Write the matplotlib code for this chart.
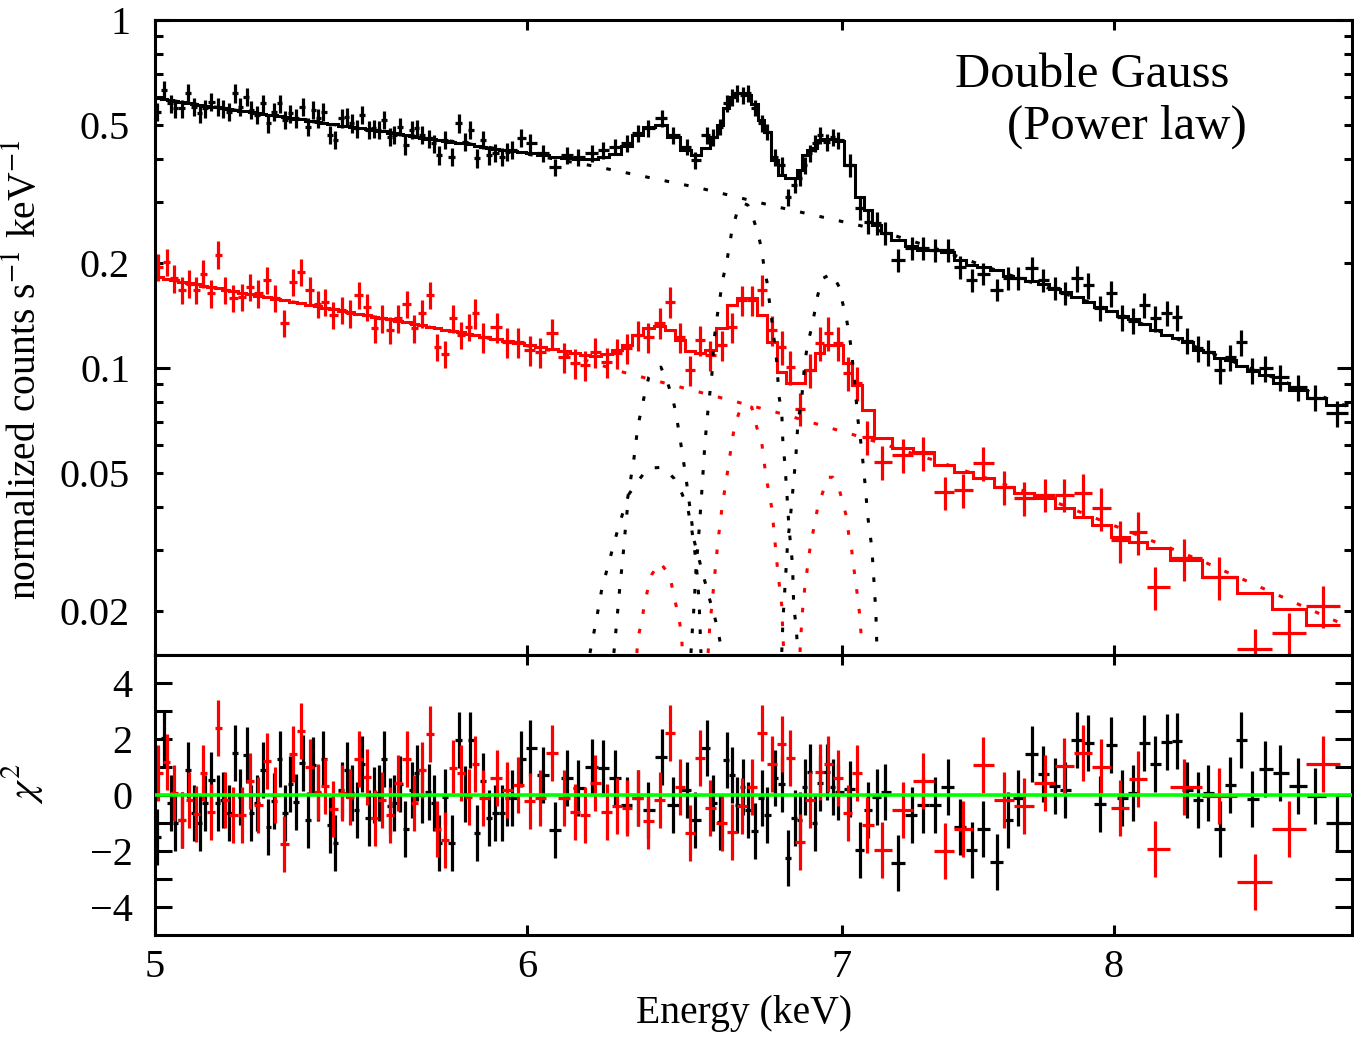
import numpy as np
import matplotlib
matplotlib.use("Agg")
import matplotlib.pyplot as plt
from matplotlib.ticker import FixedLocator, FuncFormatter, NullFormatter

# ---- data (keV, normalized counts s^-1 keV^-1) ----
black_E = [5.006, 5.022, 5.039, 5.049, 5.066, 5.082, 5.097, 5.111, 5.124, 5.140,
           5.157, 5.169, 5.184, 5.200, 5.213, 5.230, 5.242, 5.256, 5.272, 5.285,
           5.299, 5.315, 5.329, 5.342, 5.358, 5.375, 5.390, 5.403, 5.416, 5.430,
           5.448, 5.461, 5.479, 5.493, 5.506, 5.520, 5.534, 5.552, 5.566, 5.579,
           5.593, 5.610, 5.621, 5.638, 5.652, 5.671, 5.685, 5.699, 5.718, 5.732,
           5.746, 5.764, 5.783, 5.802, 5.821, 5.835, 5.855, 5.872, 5.890, 5.907,
           5.927, 5.942, 5.956, 5.983, 6.009, 6.047, 6.083, 6.119, 6.152, 6.194,
           6.228, 6.264, 6.301, 6.335, 6.366, 6.410, 6.445, 6.489, 6.515, 6.554,
           6.573, 6.595, 6.618, 6.634, 6.651, 6.670, 6.686, 6.709, 6.732, 6.749,
           6.775, 6.798, 6.818, 6.842, 6.859, 6.875, 6.892, 6.909, 6.926, 6.950,
           6.970, 6.987, 7.028, 7.063, 7.091, 7.122, 7.150, 7.196, 7.246, 7.285,
           7.328, 7.375, 7.418, 7.462, 7.503, 7.555, 7.596, 7.633, 7.685, 7.727,
           7.772, 7.811, 7.857, 7.900, 7.946, 7.989, 8.032, 8.076, 8.119, 8.163,
           8.211, 8.252, 8.292, 8.337, 8.378, 8.428, 8.469, 8.515, 8.561, 8.615,
           8.680, 8.757, 8.829, 8.925]
black_data = [0.545, 0.629, 0.576, 0.557, 0.557, 0.616, 0.563, 0.539, 0.557, 0.582,
              0.563, 0.557, 0.545, 0.616, 0.563, 0.602, 0.551, 0.533, 0.576, 0.505,
              0.545, 0.576, 0.516, 0.539, 0.522, 0.563, 0.494, 0.551, 0.522, 0.545,
              0.467, 0.452, 0.522, 0.528, 0.505, 0.488, 0.533, 0.483, 0.488, 0.483,
              0.516, 0.462, 0.467, 0.494, 0.437, 0.483, 0.488, 0.467, 0.457, 0.442,
              0.409, 0.452, 0.405, 0.505, 0.447, 0.483, 0.401, 0.452, 0.409, 0.415,
              0.404, 0.418, 0.423, 0.458, 0.443, 0.415, 0.378, 0.409, 0.404, 0.415,
              0.423, 0.432, 0.443, 0.473, 0.489, 0.523, 0.467, 0.432, 0.396, 0.467,
              0.461, 0.493, 0.577, 0.601, 0.617, 0.609, 0.617, 0.559, 0.506, 0.477,
              0.404, 0.383, 0.310, 0.336, 0.352, 0.383, 0.415, 0.443, 0.467, 0.446,
              0.461, 0.452, 0.383, 0.288, 0.263, 0.261, 0.244, 0.204, 0.221, 0.221,
              0.218, 0.218, 0.195, 0.179, 0.187, 0.168, 0.181, 0.181, 0.194, 0.179,
              0.170, 0.164, 0.181, 0.173, 0.149, 0.164, 0.140, 0.137, 0.152, 0.139,
              0.144, 0.140, 0.120, 0.114, 0.111, 0.0987, 0.1075, 0.1187, 0.0987, 0.100,
              0.0942, 0.0880, 0.0823, 0.0742]
black_relerr = [0.06] * 65 + [0.055] * 37 + [0.075] * 20 + [0.085] * 22
black_model = [0.597, 0.593, 0.589, 0.585, 0.581, 0.577, 0.574, 0.570, 0.568, 0.564,
               0.561, 0.559, 0.555, 0.551, 0.549, 0.546, 0.544, 0.540, 0.537, 0.535,
               0.532, 0.530, 0.526, 0.523, 0.521, 0.518, 0.514, 0.513, 0.509, 0.507,
               0.504, 0.501, 0.497, 0.496, 0.492, 0.491, 0.488, 0.485, 0.483, 0.480,
               0.479, 0.475, 0.474, 0.470, 0.467, 0.464, 0.462, 0.459, 0.456, 0.455,
               0.452, 0.449, 0.446, 0.443, 0.442, 0.439, 0.436, 0.433, 0.430, 0.427,
               0.424, 0.423, 0.420, 0.418, 0.414, 0.409, 0.404, 0.401, 0.399, 0.399,
               0.404, 0.412, 0.434, 0.467, 0.492, 0.499, 0.461, 0.423, 0.409, 0.429,
               0.461, 0.499, 0.559, 0.601, 0.617, 0.617, 0.609, 0.574, 0.516, 0.477,
               0.396, 0.359, 0.352, 0.352, 0.371, 0.409, 0.423, 0.429, 0.452, 0.455,
               0.455, 0.449, 0.383, 0.310, 0.284, 0.258, 0.244, 0.233, 0.224, 0.218,
               0.218, 0.215, 0.204, 0.198, 0.195, 0.191, 0.184, 0.181, 0.178, 0.174,
               0.169, 0.165, 0.160, 0.155, 0.150, 0.146, 0.141, 0.138, 0.134, 0.1286,
               0.1244, 0.122, 0.1187, 0.1126, 0.1111, 0.1068, 0.1054, 0.1013, 0.0980, 0.0955,
               0.0906, 0.0865, 0.0820, 0.0783]
black_chi = [-1.49, 2.02, -0.30, -1.01, -0.90, 0.89, -0.65, -1.00, -0.30, 0.54,
             -0.30, -0.18, -0.65, 1.49, -0.06, 1.43, -0.65, -0.30, 0.90, -1.13,
             -0.20, 1.30, -0.65, 0.40, -0.24, 1.13, -0.90, 1.07, 0.06, 1.30,
             -1.07, -1.73, 0.18, 0.90, 0.06, -0.54, 1.10, -0.83, 0.00, 0.06,
             1.30, -0.40, -0.30, 0.40, -1.20, 0.18, 0.77, 0.00, 0.10, -0.30,
             -1.73, -0.06, -1.73, 1.96, 0.05, 1.96, -1.37, 0.50, -0.83, -0.65,
             -0.65, -0.10, -0.12, 1.30, 1.67, 0.71, -1.25, 0.62, 0.24, 1.00,
             0.95, 0.60, -0.36, -0.12, -0.54, 1.37, -0.36, 0.18, -0.90, 1.67,
             -0.30, -0.95, 1.25, 0.71, -0.36, 0.30, -0.54, -1.30, -0.12, -0.71,
             0.60, 0.40, -2.26, -0.83, -0.90, 0.30, 0.83, -1.00, 0.42, 0.83,
             0.30, 0.10, 0.20, -1.96, -0.54, -0.06, 0.10, -2.44, -0.71, -0.36,
             -0.36, 0.30, -1.13, -1.96, -1.23, -2.40, -0.90, -0.12, 1.45, 0.75,
             0.32, 0.18, 1.96, 1.87, -0.32, 1.80, -0.12, 0.06, 1.87, 1.10,
             1.90, 1.94, 0.18, -0.18, 0.08, -1.23, 0.36, 1.96, -0.15, 0.92,
             0.77, 0.32, -0.04, -1.00]

red_E = [5.008, 5.029, 5.047, 5.066, 5.085, 5.102, 5.120, 5.139, 5.157, 5.175,
         5.196, 5.218, 5.239, 5.260, 5.282, 5.303, 5.327, 5.350, 5.371, 5.394,
         5.415, 5.435, 5.457, 5.480, 5.502, 5.525, 5.547, 5.568, 5.589, 5.610,
         5.632, 5.656, 5.678, 5.700, 5.721, 5.742, 5.764, 5.787, 5.809, 5.832,
         5.849, 5.872, 5.912, 5.942, 5.974, 6.009, 6.039, 6.075, 6.110, 6.143,
         6.173, 6.203, 6.240, 6.270, 6.301, 6.335, 6.366, 6.404, 6.436, 6.467,
         6.499, 6.531, 6.563, 6.602, 6.634, 6.667, 6.699, 6.732, 6.765, 6.798,
         6.825, 6.859, 6.892, 6.926, 6.953, 6.987, 7.021, 7.053, 7.087, 7.140,
         7.214, 7.285, 7.364, 7.429, 7.503, 7.580, 7.655, 7.734, 7.807, 7.880,
         7.950, 8.025, 8.096, 8.163, 8.280, 8.423, 8.573, 8.717, 8.864]
red_data = [0.1955, 0.202, 0.181, 0.168, 0.175, 0.168, 0.187, 0.164, 0.212, 0.168,
            0.159, 0.160, 0.171, 0.164, 0.179, 0.159, 0.135, 0.177, 0.189, 0.168,
            0.153, 0.155, 0.142, 0.147, 0.1436, 0.162, 0.150, 0.130, 0.139, 0.1286,
            0.139, 0.153, 0.130, 0.1436, 0.162, 0.115, 0.110, 0.139, 0.1244, 0.1315,
            0.144, 0.1227, 0.131, 0.1187, 0.1187, 0.1126, 0.1111, 0.1261, 0.1075, 0.1033,
            0.1020, 0.1111, 0.1040, 0.1104, 0.1141, 0.1244, 0.1227, 0.135, 0.155, 0.1227,
            0.0987, 0.1203, 0.1090, 0.1164, 0.131, 0.157, 0.157, 0.168, 0.1286, 0.1148,
            0.1007, 0.0765, 0.0987, 0.1179, 0.1261, 0.1179, 0.0968, 0.0905, 0.0634, 0.0537,
            0.0563, 0.0570, 0.0440, 0.0446, 0.0534, 0.0455, 0.0424, 0.0433, 0.0433, 0.0437,
            0.0396, 0.0320, 0.0338, 0.0235, 0.0284, 0.0251, 0.0156, 0.0174, 0.0208]
red_relerr = [0.09] * 40 + [0.10] * 29 + [0.11] * 20 + [0.14] * 10
red_model = [0.1826, 0.1802, 0.1790, 0.1772, 0.1755, 0.1743, 0.1726, 0.1709, 0.1698, 0.1681,
             0.1665, 0.1648, 0.1632, 0.1616, 0.1600, 0.1584, 0.1568, 0.1548, 0.1538, 0.1517,
             0.1507, 0.1492, 0.1477, 0.1463, 0.1448, 0.1434, 0.1420, 0.1406, 0.1392, 0.1383,
             0.1369, 0.1356, 0.1342, 0.1329, 0.1316, 0.1302, 0.1290, 0.1277, 0.1268, 0.1256,
             0.1244, 0.1231, 0.1211, 0.1195, 0.1180, 0.1164, 0.1149, 0.1134, 0.1119, 0.1104,
             0.1090, 0.1083, 0.1097, 0.1126, 0.1164, 0.1244, 0.1302, 0.1320, 0.1286, 0.1203,
             0.1119, 0.1104, 0.1126, 0.1302, 0.1517, 0.1589, 0.1589, 0.1420, 0.1187, 0.0974,
             0.0906, 0.0906, 0.0987, 0.1104, 0.1164, 0.1164, 0.1033, 0.0894, 0.0757, 0.0630,
             0.0589, 0.0574, 0.0527, 0.0502, 0.0483, 0.0455, 0.0437, 0.0423, 0.0396, 0.0373,
             0.0354, 0.0327, 0.0316, 0.0304, 0.0281, 0.0251, 0.0226, 0.0204, 0.0183]
red_chi = [0.77, 1.19, 0.06, -0.90, -0.18, -0.68, 0.80, -0.60, 2.38, -0.18,
           -0.71, -0.71, 0.50, -0.36, 1.21, 0.00, -1.76, 1.46, 2.29, 1.00,
           0.12, 0.32, -0.51, 0.06, -0.06, 1.27, 0.65, -0.83, -0.18, -0.71,
           0.42, 1.27, -0.30, 0.90, 2.17, -1.23, -1.60, 0.95, 0.80, -0.06,
           1.10, -0.10, 0.60, 0.18, 0.36, -0.20, -0.12, 1.51, -0.12, -0.60,
           -0.71, 0.44, -0.60, -0.39, -0.48, -0.12, -0.93, -0.18, 2.23, 0.27,
           -1.35, 1.31, -0.48, -1.01, -1.31, -0.39, 0.30, 2.23, 1.10, 1.81,
           1.31, -1.69, -0.18, 0.83, 1.10, 0.60, -0.65, 0.77, -1.07, -1.96,
           -0.54, 0.50, -2.00, -1.21, 1.07, -0.18, -0.38, 0.42, 1.04, 1.51,
           1.01, -0.48, 0.56, -1.93, 0.27, -0.02, -3.12, -1.21, 1.10]

# model components (dotted)
black_cont_E = [5.0, 5.370, 5.821, 6.197, 6.531, 6.772, 7.098, 7.328, 7.568, 7.946, 8.345, 8.99]
black_cont = [0.597, 0.516, 0.443, 0.381, 0.329, 0.292, 0.253, 0.221, 0.189, 0.151, 0.1137, 0.0767]
red_cont_E = [5.0, 5.397, 5.821, 6.099, 6.289, 6.541, 6.802, 7.068, 7.346, 7.754, 8.345, 8.99]
red_cont = [0.1826, 0.1517, 0.1256, 0.111, 0.0974, 0.0848, 0.0738, 0.0634, 0.0537, 0.0418, 0.0281, 0.0179]

bk_fe64a_E = [6.188, 6.206, 6.224, 6.249, 6.276, 6.304, 6.323, 6.335, 6.357, 6.369, 6.388, 6.407,
              6.426, 6.442, 6.454, 6.470, 6.486, 6.499, 6.512, 6.537, 6.563, 6.585, 6.602]
bk_fe64a = [0.0152, 0.0186, 0.0232, 0.0284, 0.0352, 0.0426, 0.0551, 0.0681, 0.0848, 0.0942, 0.0994, 0.1007,
            0.0918, 0.0831, 0.0747, 0.0605, 0.0486, 0.0396, 0.0320, 0.0263, 0.0215, 0.0183, 0.0153]
bk_fe64b_E = [6.261, 6.270, 6.279, 6.289, 6.298, 6.307, 6.335, 6.366, 6.413, 6.448, 6.473, 6.492,
              6.505, 6.518, 6.528, 6.534]
bk_fe64b = [0.0152, 0.0188, 0.0233, 0.0288, 0.0359, 0.0434, 0.0473, 0.0516, 0.0519, 0.0483, 0.0437, 0.0396,
            0.0342, 0.0281, 0.0215, 0.0152]
bk_fe67_E = [6.502, 6.508, 6.512, 6.518, 6.528, 6.537, 6.547, 6.557, 6.569, 6.576, 6.589, 6.605,
             6.618, 6.634, 6.650, 6.670, 6.686, 6.702, 6.719, 6.732, 6.739, 6.749, 6.755, 6.762,
             6.782, 6.788, 6.798, 6.802, 6.808, 6.815, 6.822, 6.832, 6.835, 6.838, 6.845, 6.852]
bk_fe67 = [0.0152, 0.0186, 0.0208, 0.0263, 0.0342, 0.0446, 0.0613, 0.0765, 0.0955, 0.1203, 0.147, 0.181,
           0.204, 0.249, 0.279, 0.298, 0.294, 0.272, 0.244, 0.218, 0.195, 0.1766, 0.160, 0.144,
           0.1033, 0.0837, 0.0747, 0.0602, 0.0537, 0.0437, 0.0349, 0.0284, 0.0254, 0.0206, 0.0185, 0.0153]
bk_fe70_E = [6.798, 6.802, 6.808, 6.818, 6.825, 6.835, 6.845, 6.852, 6.865, 6.875, 6.885, 6.899,
             6.919, 6.936, 6.967, 6.994, 7.004, 7.018, 7.028, 7.035, 7.046, 7.056, 7.070, 7.081,
             7.091, 7.105, 7.112, 7.119, 7.122, 7.126]
bk_fe70 = [0.0153, 0.0189, 0.0230, 0.0320, 0.0359, 0.0446, 0.0555, 0.0695, 0.0823, 0.1033, 0.1179, 0.1312,
           0.162, 0.181, 0.187, 0.170, 0.1538, 0.137, 0.1227, 0.1104, 0.0894, 0.0718, 0.0581, 0.0467,
           0.0373, 0.0304, 0.0246, 0.0198, 0.0162, 0.0150]
rd_fe64_E = [6.332, 6.335, 6.348, 6.354, 6.366, 6.379, 6.404, 6.436, 6.445, 6.457, 6.467, 6.473, 6.475]
rd_fe64 = [0.0152, 0.0168, 0.0188, 0.0207, 0.0232, 0.0256, 0.0277, 0.0253, 0.0227, 0.0204, 0.0184, 0.0165, 0.0153]
rd_fe67_E = [6.557, 6.563, 6.569, 6.579, 6.589, 6.602, 6.618, 6.634, 6.643, 6.660, 6.676, 6.699,
             6.715, 6.732, 6.745, 6.755, 6.765, 6.775, 6.785, 6.798, 6.802, 6.805]
rd_fe67 = [0.0152, 0.0186, 0.0208, 0.0259, 0.0320, 0.0399, 0.0493, 0.0613, 0.0686, 0.0757, 0.0783, 0.0772,
           0.0677, 0.0607, 0.0493, 0.0440, 0.0396, 0.0320, 0.0259, 0.0208, 0.0169, 0.0152]
rd_fe70_E = [6.859, 6.865, 6.869, 6.875, 6.882, 6.889, 6.899, 6.909, 6.919, 6.936, 6.953, 6.970,
             6.990, 7.004, 7.018, 7.025, 7.035, 7.042, 7.049, 7.056, 7.063, 7.067, 7.070]
rd_fe70 = [0.0153, 0.0189, 0.0208, 0.0233, 0.0259, 0.0290, 0.0325, 0.0359, 0.0399, 0.0440, 0.0486, 0.0486,
           0.0455, 0.0413, 0.0371, 0.0331, 0.0300, 0.0268, 0.0243, 0.0218, 0.0195, 0.0174, 0.0157]

BLACK = "#000000"
RED = "#ff0000"
GREEN = "#00ff00"

plt.rcParams["font.family"] = ["Liberation Serif", "DejaVu Serif"]
plt.rcParams["mathtext.fontset"] = "stix"
plt.rcParams["axes.linewidth"] = 2.2


def bin_edges(c):
    c = np.asarray(c)
    mid = (c[1:] + c[:-1]) / 2
    lo = np.r_[c[0] - (mid[0] - c[0]), mid]
    hi = np.r_[mid, c[-1] + (c[-1] - mid[-1])]
    return lo, hi


fig = plt.figure(figsize=(13.54, 10.41), dpi=100)
ax1 = fig.add_axes([0.1145, 0.3708, 0.884, 0.610])
ax2 = fig.add_axes([0.1145, 0.1018, 0.884, 0.2690], sharex=ax1)

dot = (0, (1.5, 5))

for E, d, rel, m, col in [(black_E, black_data, black_relerr, black_model, BLACK),
                          (red_E, red_data, red_relerr, red_model, RED)]:
    E = np.asarray(E)
    d = np.asarray(d)
    lo, hi = bin_edges(E)
    ax1.errorbar(E, d, xerr=[E - lo, hi - E], yerr=d * np.asarray(rel), fmt="none",
                 ecolor=col, elinewidth=2.3, capsize=0)
    ax1.stairs(m, np.r_[lo, hi[-1]], baseline=None, color=col, lw=2.2)

ax1.plot(black_cont_E, black_cont, color=BLACK, lw=2.2, ls=dot)
ax1.plot(red_cont_E, red_cont, color=RED, lw=2.2, ls=dot)
for ex, ey in [(bk_fe64a_E, bk_fe64a), (bk_fe64b_E, bk_fe64b),
               (bk_fe67_E, bk_fe67), (bk_fe70_E, bk_fe70)]:
    ax1.plot(ex, ey, color=BLACK, lw=2.2, ls=dot)
for ex, ey in [(rd_fe64_E, rd_fe64), (rd_fe67_E, rd_fe67), (rd_fe70_E, rd_fe70)]:
    ax1.plot(ex, ey, color=RED, lw=2.2, ls=dot)

for E, chi, col in [(black_E, black_chi, BLACK), (red_E, red_chi, RED)]:
    E = np.asarray(E)
    lo, hi = bin_edges(E)
    ax2.errorbar(E, chi, xerr=[E - lo, hi - E], yerr=np.ones(len(chi)), fmt="none",
                 ecolor=col, elinewidth=2.3, capsize=0)
ax2.axhline(0, color=GREEN, lw=2.6, zorder=5)

ax1.set_xscale("log")
ax1.set_yscale("log")
ax1.set_xlim(5.0, 8.99)
ax1.set_ylim(0.015, 1.0)
ax2.set_ylim(-5, 5)

for ax in (ax1, ax2):
    ax.xaxis.set_major_locator(FixedLocator([5, 6, 7, 8]))
    ax.xaxis.set_minor_locator(FixedLocator([]))
    ax.xaxis.set_minor_formatter(NullFormatter())
    ax.tick_params(which="both", direction="in", top=True, right=True,
                   width=2.2, labelsize=29)
    ax.tick_params(axis="x", which="major", length=7, pad=10)

ax1.tick_params(axis="x", labelbottom=False)
ax2.xaxis.set_major_formatter(FuncFormatter(lambda v, p: "%d" % round(v)))

ax1.yaxis.set_major_locator(FixedLocator([0.1, 1.0]))
ax1.yaxis.set_minor_locator(FixedLocator([0.02, 0.03, 0.04, 0.05, 0.06, 0.07, 0.08, 0.09,
                                          0.2, 0.3, 0.4, 0.5, 0.6, 0.7, 0.8, 0.9]))
ax1.yaxis.set_major_formatter(FuncFormatter(lambda v, p: "1" if v > 0.5 else "0.1"))
ax1.yaxis.set_minor_formatter(FuncFormatter(
    lambda v, p: ("%g" % v) if any(abs(v - t) < 1e-6 for t in (0.02, 0.05, 0.2, 0.5)) else ""))
ax1.tick_params(axis="y", which="major", length=11, pad=18)
ax1.tick_params(axis="y", which="minor", length=5.5, pad=18)

ax2.yaxis.set_major_locator(FixedLocator([-4, -2, 0, 2, 4]))
ax2.yaxis.set_minor_locator(FixedLocator([-3, -1, 1, 3]))
ax2.tick_params(axis="y", which="both", length=12, pad=16)

ax1.set_ylabel("normalized counts s$^{-1}$ keV$^{-1}$", fontsize=28.5)
ax1.yaxis.set_label_coords(-0.093, 0.45)
ax2.set_ylabel(r"$\chi^2$", fontsize=29)
ax2.yaxis.set_label_coords(-0.092, 0.54)
ax2.set_xlabel("Energy (keV)", fontsize=28.5)
ax2.xaxis.set_label_coords(0.492, -0.215)

ax1.text(0.668, 0.913, "Double Gauss", transform=ax1.transAxes, fontsize=35,
         ha="left", va="center")
ax1.text(0.712, 0.8315, "(Power law)", transform=ax1.transAxes, fontsize=35,
         ha="left", va="center")

fig.savefig("out.png", dpi=100)
